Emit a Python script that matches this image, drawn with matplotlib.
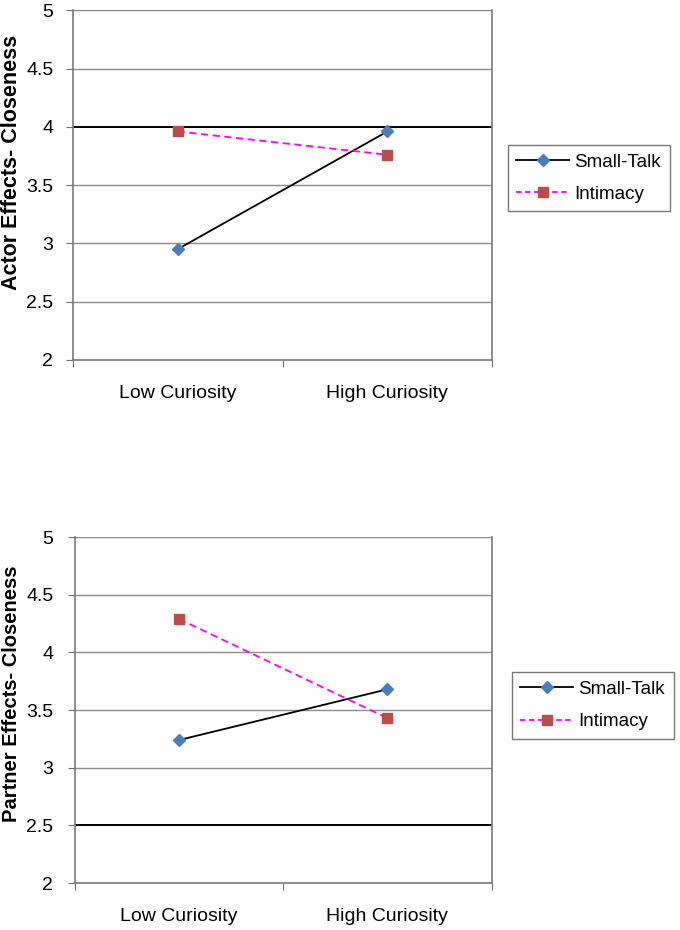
import matplotlib
matplotlib.use('Agg')
from matplotlib import pyplot as plt
from matplotlib.lines import Line2D

plt.rcParams['font.family'] = ['Liberation Sans', 'DejaVu Sans']

categories = ['Low Curiosity', 'High Curiosity']
series_names = ['Small-Talk', 'Intimacy']

actor_small_talk = [2.95, 3.96]
actor_intimacy = [3.96, 3.76]
partner_small_talk = [3.24, 3.68]
partner_intimacy = [4.29, 3.43]

y_ticks = [2, 2.5, 3, 3.5, 4, 4.5, 5]
y_tick_labels = ['2', '2.5', '3', '3.5', '4', '4.5', '5']


def draw_panel(ax, small_talk, intimacy, ylabel, dark_line, label_size, label_pos, ypad):
    xs = [0.5, 1.5]
    for y in y_ticks:
        if y == dark_line:
            ax.axhline(y, color='black', lw=1.4, zorder=1)
        else:
            ax.axhline(y, color='#8c8c8c', lw=1.0, zorder=1)
    ax.plot(xs, small_talk, color='black', lw=1.3, marker='D', markersize=6,
            markerfacecolor='#4a7ebb', markeredgecolor='#4a7ebb', zorder=3)
    ax.plot(xs, intimacy, color='#ff00ff', lw=1.3, ls=(0, (4, 2.5)), marker='s', markersize=7.5,
            markerfacecolor='#be4b48', markeredgecolor='#be4b48', zorder=3)
    ax.set_xlim(0, 2)
    ax.set_ylim(2, 5)
    ax.set_yticks(y_ticks)
    ax.set_yticklabels(y_tick_labels, fontsize=14)
    ax.set_xticks([0, 1, 2])
    ax.set_xticklabels([])
    ax.set_xticks(xs, minor=True)
    ax.set_xticklabels(categories, minor=True, fontsize=14)
    ax.tick_params(axis='x', which='minor', length=0, pad=18)
    ax.tick_params(axis='x', which='major', length=5, color='#6e6e6e', direction='out')
    ax.tick_params(axis='y', length=5, color='#6e6e6e', pad=ypad)
    for side in ['left', 'right', 'bottom']:
        ax.spines[side].set_color('#7a7a7a')
        ax.spines[side].set_linewidth(1.2)
    ax.spines['top'].set_visible(False)
    ax.set_ylabel(ylabel, fontsize=label_size, fontweight='bold')
    ax.yaxis.set_label_coords(*label_pos)


fig = plt.figure(figsize=(6.8, 9.3), dpi=100)
ax1 = fig.add_axes([0.107, 0.613, 0.617, 0.376])
ax2 = fig.add_axes([0.110, 0.0505, 0.613, 0.372])

draw_panel(ax1, actor_small_talk, actor_intimacy, 'Actor Effects- Closeness', 4,
           15.5, (-0.122, 0.566), 9)
draw_panel(ax2, partner_small_talk, partner_intimacy, 'Partner Effects- Closeness', 2.5,
           14.5, (-0.128, 0.546), 10.5)

handles = [
    Line2D([], [], color='black', lw=1.3, marker='D', markersize=6,
           markerfacecolor='#4a7ebb', markeredgecolor='#4a7ebb'),
    Line2D([], [], color='#ff00ff', lw=1.3, ls=(0, (3, 2)), marker='s', markersize=7.5,
           markerfacecolor='#be4b48', markeredgecolor='#be4b48'),
]
for anchor in [(0.747, 0.844), (0.753, 0.277)]:
    leg = fig.legend(handles, series_names, loc='upper left', bbox_to_anchor=anchor,
                     fontsize=13.5, frameon=True, fancybox=False, handlelength=2.8,
                     handletextpad=0.3, borderpad=0.45, labelspacing=0.8, borderaxespad=0)
    leg.get_frame().set_edgecolor('#555555')
    leg.get_frame().set_linewidth(1.0)

fig.savefig('out.png', dpi=100)
